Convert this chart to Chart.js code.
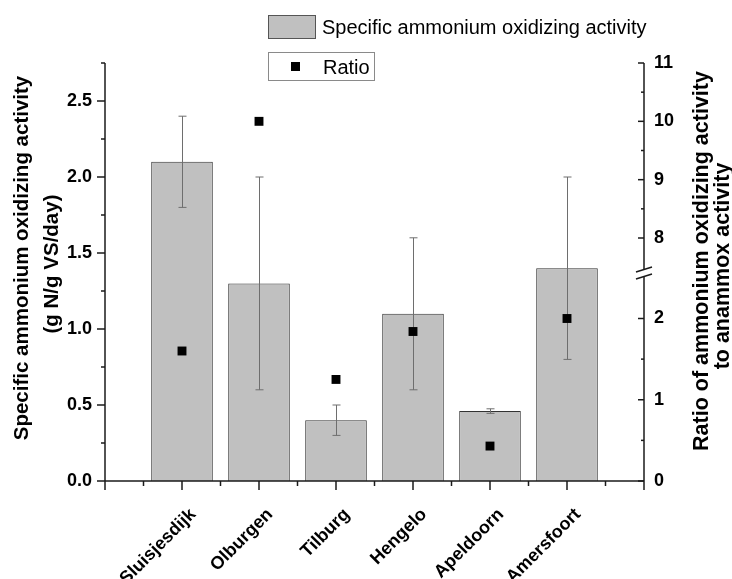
<!DOCTYPE html>
<html>
<head>
<meta charset="utf-8">
<script src="https://cdn.jsdelivr.net/npm/chart.js@4.4.1/dist/chart.umd.min.js"></script>
<style>
  html, body { margin: 0; padding: 0; background: #fff; }
  #wrap { width: 732px; height: 579px; }
</style>
</head>
<body>
<div id="wrap"><canvas id="activityChart" width="732" height="579"></canvas></div>
<script>
// sampling sites, plotted at x = 1..6
const sites = ['Sluisjesdijk', 'Olburgen', 'Tilburg', 'Hengelo', 'Apeldoorn', 'Amersfoort'];

// specific ammonium oxidizing activity (g N/g VS/day) with error range
const activity     = [2.1, 1.3, 0.4, 1.1, 0.46, 1.4];
const activityUpper = [2.4, 2.0, 0.5, 1.6, 0.475, 2.0];
const activityLower = [1.8, 0.6, 0.3, 0.6, 0.445, 0.8];

// ratio of ammonium oxidizing activity to anammox activity
const ratio = [1.6, 10.0, 1.25, 1.84, 0.43, 2.0];

// axis ticks (right axis is broken between ratioLowMax and ratioHighMin)
const activityTicks = [0, 0.5, 1.0, 1.5, 2.0, 2.5];
const ratioLowTicks = [0, 1, 2];
const ratioHighTicks = [8, 9, 10, 11];
const ratioLowMax = 2.56;
const ratioHighMin = 7.4;

const barLabel = 'Specific ammonium oxidizing activity';
const ratioLabel = 'Ratio';
const leftTitle = ['Specific ammonium oxidizing activity', '(g N/g VS/day)'];
const rightTitle = ['Ratio of ammonium oxidizing activity', 'to anammox activity'];

const FONT = '"Liberation Sans", Arial, Helvetica, sans-serif';
const AXIS = '#1a1a1a';

const barData = sites.map((s, i) => ({ x: i + 1, y: activity[i] }));
const ratioLowData = [];
const ratioHighData = [];
ratio.forEach((r, i) => {
  if (r <= ratioLowMax) ratioLowData.push({ x: i + 1, y: r });
  else ratioHighData.push({ x: i + 1, y: r });
});

function line(ctx, x1, y1, x2, y2) {
  ctx.beginPath();
  ctx.moveTo(x1, y1);
  ctx.lineTo(x2, y2);
  ctx.stroke();
}

// error bars on top of the grey bars
const errorBars = {
  id: 'errorBars',
  afterDatasetDraw(chart, args) {
    if (args.meta.type !== 'bar') return;
    const ctx = chart.ctx;
    const y = chart.scales.y;
    ctx.save();
    ctx.strokeStyle = '#6e6e6e';
    ctx.lineWidth = 1;
    args.meta.data.forEach((bar, i) => {
      const px = Math.round(bar.x) + 0.5;
      const top = y.getPixelForValue(activityUpper[i]);
      const bot = y.getPixelForValue(activityLower[i]);
      line(ctx, px, top, px, bot);
      line(ctx, px - 4, top, px + 4, top);
      line(ctx, px - 4, bot, px + 4, bot);
    });
    ctx.restore();
  }
};

// axis lines, major/minor ticks and the axis break
const axesFrame = {
  id: 'axesFrame',
  afterDraw(chart) {
    const { ctx, chartArea: a, scales } = chart;
    const x = scales.x, y = scales.y, hi = scales.yHigh, lo = scales.yLow;
    ctx.save();
    ctx.strokeStyle = AXIS;
    ctx.lineWidth = 1.5;

    // bottom axis
    line(ctx, a.left, a.bottom, a.right, a.bottom);
    for (let v = x.min; v <= x.max + 1e-9; v += 0.5) {
      const px = x.getPixelForValue(v);
      const major = Math.abs(v - Math.round(v)) < 1e-6;
      line(ctx, px, a.bottom, px, a.bottom + (major ? 9 : 5));
    }

    // left axis, ticks outside
    line(ctx, a.left, a.top, a.left, a.bottom);
    activityTicks.forEach(v => {
      const py = y.getPixelForValue(v);
      line(ctx, a.left - 8, py, a.left, py);
      const m = v + 0.25;
      if (m <= y.max + 1e-9) {
        const pm = y.getPixelForValue(m);
        line(ctx, a.left - 4, pm, a.left, pm);
      }
    });

    // right axis, ticks inside, broken between the two scales
    const brk = hi.bottom;
    line(ctx, a.right, a.top, a.right, brk - 4);
    line(ctx, a.right, brk + 4, a.right, a.bottom);
    [[hi, ratioHighTicks], [lo, ratioLowTicks]].forEach(([s, ticks]) => {
      ticks.forEach((v, k) => {
        const py = s.getPixelForValue(v);
        line(ctx, a.right - 6, py, a.right, py);
        if (k < ticks.length - 1) {
          const pm = s.getPixelForValue((v + ticks[k + 1]) / 2);
          line(ctx, a.right - 3, pm, a.right, pm);
        }
      });
    });
    line(ctx, a.right - 8, brk - 1, a.right + 8, brk - 6);
    line(ctx, a.right - 8, brk + 6, a.right + 8, brk + 1);
    ctx.restore();
  }
};

// rotated axis titles and the two legend boxes
const titlesAndLegend = {
  id: 'titlesAndLegend',
  afterDraw(chart) {
    const ctx = chart.ctx;
    ctx.save();
    ctx.fillStyle = '#000';
    ctx.textAlign = 'center';
    ctx.textBaseline = 'alphabetic';
    // [baseline x, centre y, font size, text]
    [
      [28, 258, 20.5, leftTitle[0]],
      [58, 264, 20.5, leftTitle[1]],
      [708, 261, 21.5, rightTitle[0]],
      [729, 266, 21.5, rightTitle[1]]
    ].forEach(([bx, cy, size, t]) => {
      ctx.save();
      ctx.font = 'bold ' + size + 'px ' + FONT;
      ctx.translate(bx, cy);
      ctx.rotate(-Math.PI / 2);
      ctx.fillText(t, 0, 0);
      ctx.restore();
    });

    // legend
    ctx.textAlign = 'left';
    ctx.font = '20px ' + FONT;
    ctx.fillStyle = '#c0c0c0';
    ctx.fillRect(268, 15, 47, 23);
    ctx.strokeStyle = '#555';
    ctx.lineWidth = 1;
    ctx.strokeRect(268.5, 15.5, 47, 23);
    ctx.fillStyle = '#000';
    ctx.fillText(barLabel, 322, 34);

    ctx.strokeStyle = '#8a8a8a';
    ctx.strokeRect(268.5, 52.5, 106, 28);
    ctx.fillRect(291, 62, 9, 9);
    ctx.fillText(ratioLabel, 323, 74);
    ctx.restore();
  }
};

const tickFont = { family: FONT, size: 18, weight: 'bold' };
const noGrid = { display: false, drawTicks: false };

new Chart(document.getElementById('activityChart'), {
  type: 'bar',
  data: {
    datasets: [
      {
        type: 'scatter',
        label: ratioLabel,
        data: ratioHighData,
        yAxisID: 'yHigh',
        pointStyle: 'rect',
        pointRadius: 6.3,
        backgroundColor: '#000',
        borderColor: '#000',
        borderWidth: 0,
        clip: false,
        order: 0
      },
      {
        type: 'scatter',
        label: ratioLabel,
        data: ratioLowData,
        yAxisID: 'yLow',
        pointStyle: 'rect',
        pointRadius: 6.3,
        backgroundColor: '#000',
        borderColor: '#000',
        borderWidth: 0,
        clip: false,
        order: 0
      },
      {
        type: 'bar',
        label: barLabel,
        data: barData,
        yAxisID: 'y',
        backgroundColor: '#c0c0c0',
        borderColor: '#333',
        borderWidth: 1,
        categoryPercentage: 1,
        barPercentage: 0.8,
        order: 2
      }
    ]
  },
  options: {
    responsive: false,
    devicePixelRatio: 1,
    animation: false,
    layout: { padding: { top: 63, left: 0, right: 0, bottom: 0 } },
    plugins: {
      legend: { display: false },
      tooltip: { enabled: false }
    },
    scales: {
      x: {
        type: 'linear',
        min: 0,
        max: sites.length + 1,
        offset: false,
        grid: noGrid,
        border: { display: false },
        afterBuildTicks: s => { s.ticks = sites.map((n, i) => ({ value: i + 1 })); },
        afterFit: s => { s.height = 98; },
        ticks: {
          autoSkip: false,
          minRotation: 45,
          maxRotation: 45,
          padding: 23,
          labelOffset: 11,
          color: '#000',
          font: tickFont,
          callback: v => sites[v - 1] || ''
        }
      },
      y: {
        position: 'left',
        min: 0,
        max: 2.75,
        grid: noGrid,
        border: { display: false },
        afterBuildTicks: s => { s.ticks = activityTicks.map(v => ({ value: v })); },
        afterFit: s => { s.width = 105; },
        ticks: { padding: 13, color: '#000', font: tickFont, callback: v => v.toFixed(1) }
      },
      yHigh: {
        position: 'right',
        stack: 'ratio',
        stackWeight: 210,
        min: ratioHighMin,
        max: 11,
        grid: noGrid,
        border: { display: false },
        afterBuildTicks: s => { s.ticks = ratioHighTicks.map(v => ({ value: v })); },
        afterFit: s => { s.width = 88; },
        ticks: { padding: 10, color: '#000', font: tickFont, callback: v => String(v) }
      },
      yLow: {
        position: 'right',
        stack: 'ratio',
        stackWeight: 208,
        min: 0,
        max: ratioLowMax,
        grid: noGrid,
        border: { display: false },
        afterBuildTicks: s => { s.ticks = ratioLowTicks.map(v => ({ value: v })); },
        afterFit: s => { s.width = 88; },
        ticks: { padding: 10, color: '#000', font: tickFont, callback: v => String(v) }
      }
    }
  },
  plugins: [errorBars, axesFrame, titlesAndLegend]
});
</script>
</body>
</html>
